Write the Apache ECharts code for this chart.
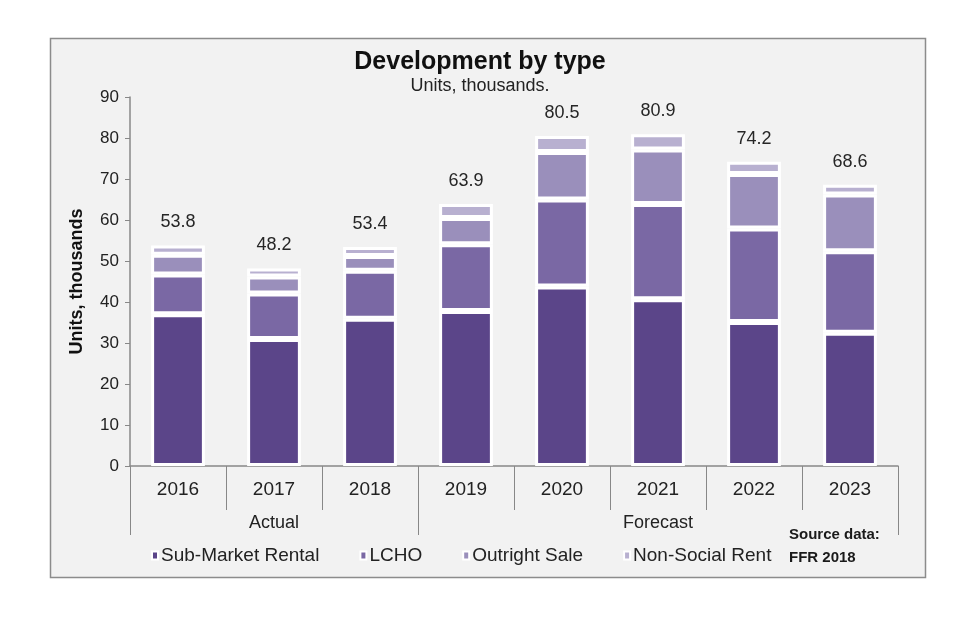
<!DOCTYPE html>
<html>
<head>
<meta charset="utf-8">
<script src="https://cdn.jsdelivr.net/npm/echarts@6/dist/echarts.min.js"></script>
<style>html,body{margin:0;padding:0;background:#fff;}#c{width:960px;height:640px;}</style>
</head>
<body>
<div id="c"></div>
<script>
const years = ['2016','2017','2018','2019','2020','2021','2022','2023'];
const groups = ['Actual','Forecast'];
const groupBounds = [0, 3, 8];
const subMarketRental = [37.0, 31.0, 35.9, 37.8, 43.8, 40.7, 35.1, 32.5];
const lcho            = [ 9.7, 11.1, 11.7, 16.3, 21.2, 23.2, 22.8, 19.9];
const outrightSale    = [ 4.8,  4.1,  3.6,  6.4, 11.6, 13.3, 13.3, 13.8];
const nonSocialRent   = [ 2.3,  2.0,  2.2,  3.4,  3.9,  3.7,  3.0,  2.4];
const yTicks = [0, 10, 20, 30, 40, 50, 60, 70, 80, 90];

const colors = ['#5b4589', '#7a68a4', '#9a8fbb', '#b8b0d0'];
const names = ['Sub-Market Rental', 'LCHO', 'Outright Sale', 'Non-Social Rent'];
const seriesData = [subMarketRental, lcho, outrightSale, nonSocialRent];

const chart = echarts.init(document.getElementById('c'));
const font = 'Liberation Sans, Arial, sans-serif';

const series = seriesData.map((d, i) => ({
  name: names[i],
  type: 'bar',
  stack: 'total',
  xAxisIndex: 0,
  barWidth: '56%',
  data: d,
  itemStyle: { color: colors[i], borderColor: '#ffffff', borderWidth: 3 },
  label: i === 3 ? {
    show: true,
    position: 'top',
    distance: 14,
    fontSize: 18,
    fontFamily: font,
    color: '#262626',
    formatter: p => {
      const idx = p.dataIndex;
      let s = 0;
      seriesData.forEach(arr => { s += arr[idx]; });
      return s.toFixed(1);
    }
  } : { show: false }
}));

chart.setOption({
  backgroundColor: '#ffffff',
  animation: false,
  graphic: [
    { type: 'rect', z: -10, shape: { x: 50.5, y: 38.5, width: 875, height: 539 },
      style: { fill: '#f2f2f2', stroke: '#8c8c8c', lineWidth: 1.5 } },
    { type: 'text', left: 789, top: 523, style: { text: 'Source data:\nFFR 2018', font: 'bold 15px Liberation Sans, Arial, sans-serif', fill: '#1a1a1a', lineHeight: 23 } }
  ],
  title: {
    text: 'Development by type',
    subtext: 'Units, thousands.',
    left: 'center',
    top: 45,
    itemGap: 2,
    textStyle: { fontSize: 25, fontWeight: 'bold', color: '#111', fontFamily: font },
    subtextStyle: { fontSize: 18, color: '#222', fontFamily: font }
  },
  legend: {
    data: names,
    left: 146,
    top: 541,
    icon: 'rect',
    itemWidth: 6,
    itemHeight: 8,
    itemGap: 40,
    textStyle: { fontSize: 19, color: '#222', fontFamily: font, padding: [0, 0, 0, -2] }
  },
  grid: { left: 130, right: 62, top: 97, bottom: 174, containLabel: false },
  xAxis: [
    {
      type: 'category',
      data: years,
      position: 'bottom',
      axisLine: { show: true, lineStyle: { color: '#888', width: 1.5 } },
      axisTick: { show: true, length: 44, interval: 0, lineStyle: { color: '#888' } },
      axisLabel: { margin: 14, fontSize: 19, color: '#222', fontFamily: font, interval: 0 }
    },
    {
      type: 'value',
      min: 0,
      max: 8,
      position: 'bottom',
      splitLine: { show: false },
      axisLine: { show: false },
      axisTick: { show: true, length: 69, customValues: groupBounds, lineStyle: { color: '#888' } },
      axisLabel: {
        show: true,
        margin: 48,
        fontSize: 18,
        color: '#222',
        fontFamily: font,
        customValues: [(groupBounds[0] + groupBounds[1]) / 2, (groupBounds[1] + groupBounds[2]) / 2],
        formatter: v => (v < groupBounds[1] ? groups[0] : groups[1])
      }
    }
  ],
  yAxis: {
    type: 'value',
    min: 0,
    max: 90,
    interval: 10,
    name: 'Units, thousands',
    nameLocation: 'middle',
    nameRotate: 90,
    nameGap: 44,
    nameTextStyle: { fontSize: 18, fontWeight: 'bold', color: '#111', fontFamily: font },
    axisLine: { show: true, lineStyle: { color: '#888', width: 1.5 } },
    axisTick: { show: true, length: 5, lineStyle: { color: '#888' } },
    splitLine: { show: false },
    axisLabel: { fontSize: 17, color: '#222', fontFamily: font, margin: 11,
      formatter: v => String(yTicks[yTicks.indexOf(v)]) }
  },
  series: series
});
</script>
</body>
</html>
